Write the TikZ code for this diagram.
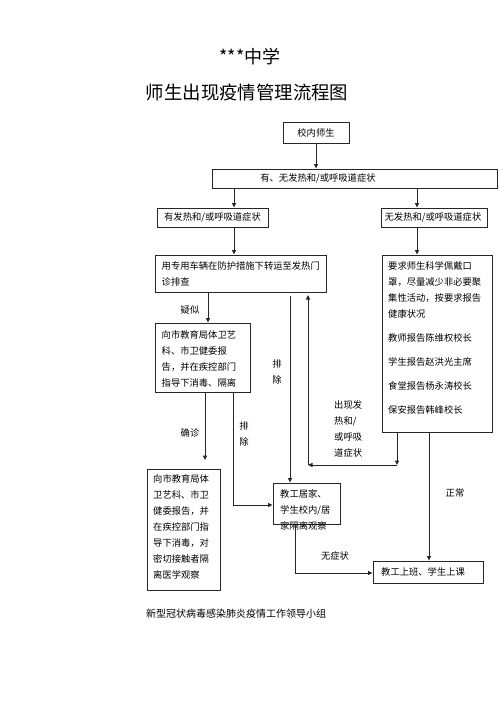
\documentclass[tikz,border=0pt]{standalone}
\usepackage{fontspec}
\newfontfamily\cjk{Noto Sans CJK SC}
\usetikzlibrary{arrows.meta}
\begin{document}
\begin{tikzpicture}[x=1bp,y=-1bp,
  box/.style={draw=black!85, line width=1bp, inner sep=0},
  ln/.style={draw=black!85, line width=1bp},
  arr/.style={ln, -{Triangle[length=4.5bp,width=4bp]}},
  txt/.style={anchor=north west, inner sep=0, align=left, font=\cjk\fontsize{9.3bp}{16bp}\selectfont, text=black},
  ctr/.style={anchor=center, inner sep=0, align=center, font=\cjk\fontsize{9.3bp}{16bp}\selectfont, text=black},
  ]
\useasboundingbox[fill=white] (0,0) rectangle (500,707);
% titles
\node[font=\cjk\fontsize{18bp}{20bp}\selectfont, inner sep=0] (title1) at (250,57) {***中学};
\node[font=\cjk\fontsize{18.4bp}{20bp}\selectfont, inner sep=0] (title2) at (247,92) {师生出现疫情管理流程图};
% boxes
\node[box, minimum width=66bp, minimum height=20bp] (b1) at (316,133) {};
\node[box, minimum width=285bp, minimum height=19bp] (b2) at (354.5,178.5) {};
\node[box, minimum width=111bp, minimum height=19bp] (b3L) at (212.5,217.5) {};
\node[box, minimum width=106bp, minimum height=19bp] (b3R) at (434,217.5) {};
\node[box, minimum width=171bp, minimum height=37bp] (b4) at (240.5,273.5) {};
\node[box, minimum width=110bp, minimum height=177bp] (bR) at (437,343.5) {};
\node[box, minimum width=95bp, minimum height=69bp] (b5) at (202.5,357.5) {};
\node[box, minimum width=73bp, minimum height=121bp] (b6) at (183.5,529.5) {};
\node[box, minimum width=67bp, minimum height=41bp] (b7) at (306.5,503.5) {};
\node[box, minimum width=110bp, minimum height=22bp] (b8) at (428,572) {};
% box texts
\node[ctr] (t1) at (316,133) {校内师生};
\node[ctr] (t2) at (318,178.5) {有、无发热和/或呼吸道症状};
\node[ctr] (t3L) at (212.5,217.5) {有发热和/或呼吸道症状};
\node[ctr] (t3R) at (433,217.5) {无发热和/或呼吸道症状};
\node[txt] (t4) at (161.5,261.5) {用专用车辆在防护措施下转运至发热门\\诊排查};
\node[txt] (tR) at (388,261.5) {要求师生科学佩戴口\\罩，尽量减少非必要聚\\集性活动，按要求报告\\健康状况\\[8bp]教师报告陈维权校长\\[8bp]学生报告赵洪光主席\\[8bp]食堂报告杨永涛校长\\[8bp]保安报告韩峰校长};
\node[txt] (t5) at (161.5,330) {向市教育局体卫艺\\科、市卫健委报\\告，并在疾控部门\\指导下消毒、隔离};
\node[txt] (t6) at (153,474) {向市教育局体\\卫艺科、市卫\\健委报告，并\\在疾控部门指\\导下消毒，对\\密切接触者隔\\离医学观察};
\node[txt] (t7) at (280,489) {教工居家、\\学生校内/居\\家隔离观察};
\node[ctr, anchor=west] (t8) at (381,572) {教工上班、学生上课};
% helper coordinates
\coordinate (xL) at (234,0);
\coordinate (xR) at (417,0);
\coordinate (xS) at (208,0);
\coordinate (xP) at (290,0);
\coordinate (xN) at (429,0);
\coordinate (h1) at (397,465);
\coordinate (h2) at (308,465);
\coordinate (u) at (308,295);
\coordinate (q) at (205,460);
\coordinate (e) at (233,505);
\coordinate (w) at (295,573);
% connectors
\draw[arr] (b1.south) -- (b1.south |- b2.north);
\draw[arr] (xL |- b2.south) -- (xL |- b3L.north);
\draw[arr] (xR |- b2.south) -- (xR |- b3R.north);
\draw[arr] (xL |- b3L.south) -- (xL |- b4.north);
\draw[arr] (xR |- b3R.south) -- (xR |- bR.north);
\draw[arr] (xS |- b4.south) -- (xS |- b5.north);
\draw[arr] ([yshift=-3bp]xP |- b4.south) -- (xP |- b7.north);
\draw[arr] (bR.south -| h1) -- (h1);
\draw[arr] (h1) -- (h2);
\draw[arr] (h2) -- (u);
\draw[arr] (xN |- bR.south) -- (xN |- b8.north);
\draw[arr] (b5.south -| q) -- (q);
\draw[arr] (b5.south -| e) -- (e) -- (e -| b7.west);
\draw[arr] (b7.south -| w) -- (w) -- (w -| b8.west);
% labels
\node[ctr] (l1) at (190,310) {疑似};
\node[ctr] (l2) at (277,372) {排\\除};
\node[ctr] (l3) at (190,433) {确诊};
\node[ctr] (l4) at (244,434) {排\\除};
\node[txt] (l5) at (334,400.5) {出现发\\热和/\\或呼吸\\道症状};
\node[ctr] (l6) at (455,493) {正常};
\node[ctr] (l7) at (335,556) {无症状};
% footer
\node[anchor=west, inner sep=0, font=\cjk\fontsize{10bp}{12bp}\selectfont, text=black] (foot) at (146,614) {新型冠状病毒感染肺炎疫情工作领导小组};
\end{tikzpicture}
\end{document}
